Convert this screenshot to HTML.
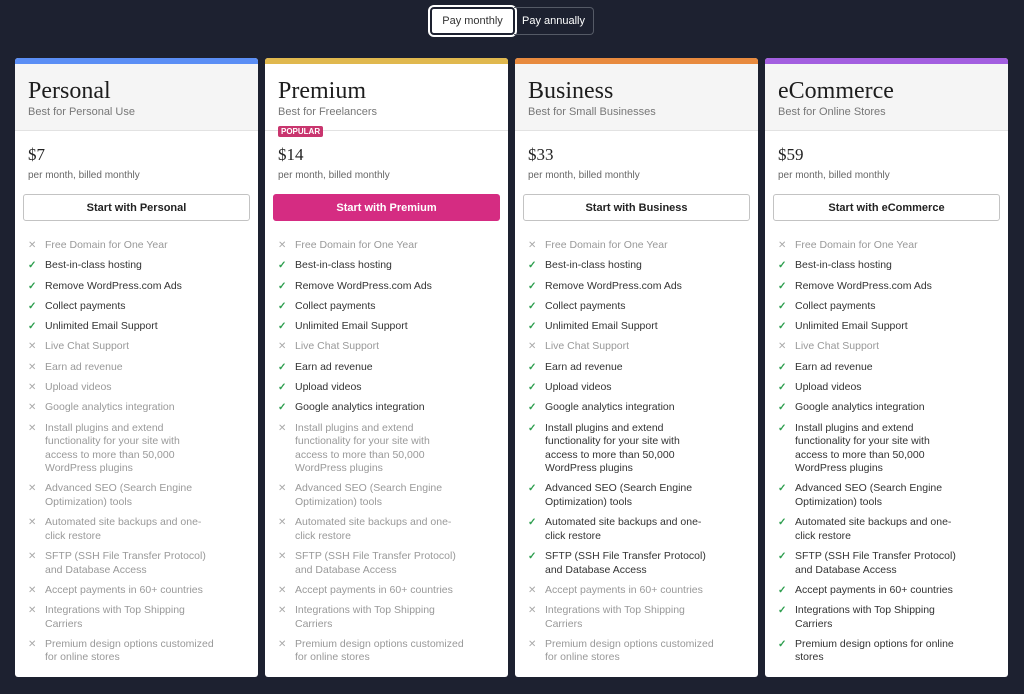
<!DOCTYPE html>
<html><head><meta charset="utf-8"><style>
*{box-sizing:border-box;margin:0;padding:0}
body{width:1024px;height:694px;background:#1d2130;font-family:"Liberation Sans",sans-serif;position:relative;overflow:hidden}
.tog{position:absolute;top:7px;height:28px;font-size:11px;display:flex;align-items:center;justify-content:center}
#m{left:430px;width:85px;background:#fff;color:#333;border:2px solid #1d2130;outline:2px solid #fff;border-radius:4px}
#a{left:514px;width:80px;color:#fff;border:1px solid #555a66;border-left:none;border-radius:0 4px 4px 0}
.card{position:absolute;top:58px;width:243px;height:619px;background:#fff;border-radius:3px;overflow:hidden}
.bar{height:6px}
.hd{height:67px;background:#f5f5f5;border-bottom:1px solid #e2e2e2;padding:13px 13px 0}
.card.w .hd{background:#fff}
.t{font-family:"Liberation Serif",serif;font-size:24px;color:#1d1d1d;line-height:28px}
.s{font-size:11px;color:#777;margin-top:1px}
.pop{position:absolute;left:13px;top:68px;background:#c9356e;color:#fff;font-size:8px;font-weight:bold;padding:1px 3px;border-radius:2px}
.pr{font-family:"Liberation Serif",serif;font-size:17px;color:#222;position:absolute;left:13px;top:87px}
.pm{font-size:10px;color:#666;position:absolute;left:13px;top:112px}
.btn{position:absolute;left:8px;top:136px;width:227px;height:27px;border:1px solid #c3c3c3;border-radius:3px;font-size:11px;font-weight:bold;color:#222;display:flex;align-items:center;justify-content:center;background:#fff}
.btn.p{background:#d52c82;border-color:#d52c82;color:#fff}
ul{position:absolute;left:13px;top:181px;list-style:none;width:187px}
li{font-size:10.5px;line-height:13.5px;padding-left:17px;position:relative;margin-bottom:6.8px;color:#999}
li.y{color:#333}
li::before{position:absolute;left:0;top:0;content:"✕";color:#aaa;font-size:10px}
li.y::before{content:"✓";color:#2e9e4f;font-weight:bold}
</style></head><body>
<div class="tog" id="m">Pay monthly</div>
<div class="tog" id="a">Pay annually</div>
<div id="cards"></div>
<script>
const plans=[["Personal","Best for Personal Use","$7","#5b8ef5",15],["Premium","Best for Freelancers","$14","#e0b84e",265],["Business","Best for Small Businesses","$33","#e88a3e",515],["eCommerce","Best for Online Stores","$59","#a35fe0",765]];
const feats=["Free Domain for One Year","Best-in-class hosting","Remove WordPress.com Ads","Collect payments","Unlimited Email Support","Live Chat Support","Earn ad revenue","Upload videos","Google analytics integration","Install plugins and extend functionality for your site with access to more than 50,000 WordPress plugins","Advanced SEO (Search Engine Optimization) tools","Automated site backups and one-click restore","SFTP (SSH File Transfer Protocol) and Database Access","Accept payments in 60+ countries","Integrations with Top Shipping Carriers","Premium design options customized for online stores"];
const inc=[[0,1,1,1,1,0,0,0,0,0,0,0,0,0,0,0],[0,1,1,1,1,0,1,1,1,0,0,0,0,0,0,0],[0,1,1,1,1,0,1,1,1,1,1,1,1,0,0,0],[0,1,1,1,1,0,1,1,1,1,1,1,1,1,1,1]];
const wrap=document.getElementById('cards');
plans.forEach((p,i)=>{
const c=document.createElement('div');c.className='card'+(i==1?' w':'');c.style.left=p[4]+'px';


let h='<div class="bar" style="background:'+p[3]+'"></div><div class="hd"><div class="t">'+p[0]+'</div><div class="s">'+p[1]+'</div></div>';
if(i==1)h+='<div class="pop">POPULAR</div>';
h+='<div class="pr">'+p[2]+'</div><div class="pm">per month, billed monthly</div>';
h+='<div class="btn'+(i==1?' p':'')+'">Start with '+p[0]+'</div><ul>';
feats.forEach((f,j)=>{let t=f;if(i==3&&j==15)t="Premium design options for online stores";h+='<li class="'+(inc[i][j]?'y':'')+'">'+t+'</li>';});
c.innerHTML=h+'</ul>';wrap.appendChild(c);});
</script>
</body></html>
